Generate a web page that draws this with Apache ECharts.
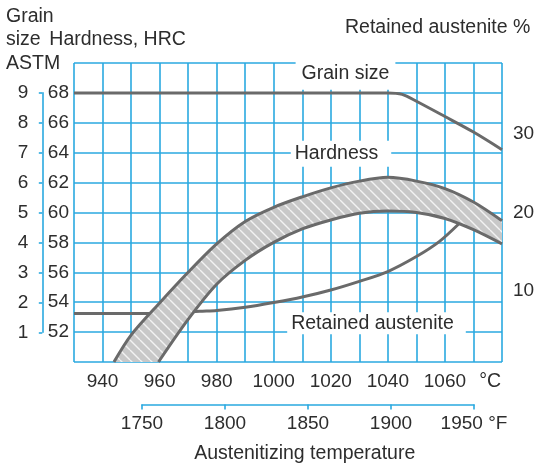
<!DOCTYPE html>
<html>
<head>
<meta charset="utf-8">
<script src="https://cdn.jsdelivr.net/npm/echarts@6/dist/echarts.min.js"></script>
<style>
html, body { margin: 0; padding: 0; background: #fff; }
#chart { width: 538px; height: 467px; }
</style>
</head>
<body>
<div id="chart"></div>
<script>
// tick labels
var tempLabels = [940, 960, 980, 1000, 1020, 1040, 1060];
var hrcLabels = [52, 54, 56, 58, 60, 62, 64, 66, 68];
var austLabels = [10, 20, 30];
var fahrenheitTicks = [1750, 1800, 1850, 1900, 1950];

// grain size (ASTM) against austenitizing temperature, degC
var grainTemp = [930, 1040, 1045, 1050, 1060, 1070, 1080];
var grainSize = [9, 9, 8.95, 8.72, 8.21, 7.69, 7.1];

// hardness band, HRC (upper and lower edge)
var hardUpperTemp = [944, 950, 960, 970, 980, 990, 1000, 1010, 1020, 1030, 1040, 1050, 1060, 1070, 1080];
var hardUpper = [50, 51.8, 53.95, 56.0, 57.9, 59.4, 60.35, 61.05, 61.65, 62.1, 62.35, 62.1, 61.6, 60.7, 59.45];
var hardLowerTemp = [959.6, 970, 980, 990, 1000, 1010, 1020, 1030, 1040, 1050, 1060, 1070, 1080];
var hardLower = [50, 52.85, 55.2, 56.8, 58.0, 58.9, 59.5, 59.95, 60.1, 60.0, 59.6, 58.85, 57.9];

// retained austenite %
var austTemp = [930, 957, 966, 974, 980, 990, 1000, 1010, 1020, 1030, 1040, 1050, 1058, 1065];
var austVal = [7.15, 7.15, 7.25, 7.45, 7.55, 7.95, 8.55, 9.25, 10.15, 11.25, 12.5, 14.4, 16.3, 18.6];

var BLUE = '#2aa9e0';
var GREY = '#6a6a6a';
var TXT = '#2d2d2d';
var FONT = '"Liberation Sans", Arial, Helvetica, sans-serif';

function pairs(xs, ys) {
    var out = [];
    for (var i = 0; i < xs.length; i++) out.push([xs[i], ys[i]]);
    return out;
}

// striped grey fill for the hardness band
var tile = document.createElement('canvas');
tile.width = 10; tile.height = 10;
var g = tile.getContext('2d');
g.fillStyle = '#c8c8c8';
g.fillRect(0, 0, 10, 10);
g.strokeStyle = '#f2f2f2';
g.lineWidth = 1.4;
for (var k = -1; k <= 1; k++) {
    g.beginPath();
    g.moveTo(0, k * 10);
    g.lineTo(10, 10 + k * 10);
    g.stroke();
}
var stripes = { image: tile, repeat: 'repeat' };

function txt(x, y, s, align, extra) {
    var st = { text: s, font: '19.5px ' + FONT, fill: TXT, align: align || 'left', verticalAlign: 'middle' };
    if (extra) for (var p in extra) st[p] = extra[p];
    return { type: 'text', x: x, y: y, z: 1, style: st };
}

function plain(v) { return String(v); }

var chart = echarts.init(document.getElementById('chart'), null, { renderer: 'canvas' });
chart.setOption({
    animation: false,
    textStyle: { fontFamily: FONT },
    grid: [
        { left: 74, top: 63, width: 428, height: 299 },
        { left: 42.3, top: 92.9, width: 1, height: 239.4 },
        { left: 142, top: 403.5, width: 332, height: 1 }
    ],
    xAxis: [
        {
            type: 'value', gridIndex: 0, min: 930, max: 1080, interval: 10,
            axisLine: { show: false }, axisTick: { show: false },
            splitLine: { lineStyle: { color: BLUE, width: 1.6 } },
            axisLabel: { customValues: tempLabels, formatter: plain, margin: 10, fontSize: 19, color: TXT }
        },
        { type: 'value', gridIndex: 1, show: false },
        {
            type: 'value', gridIndex: 2, min: 1750, max: 1950, interval: 50, position: 'bottom',
            axisLine: { lineStyle: { color: BLUE, width: 1.6 } },
            axisTick: { customValues: fahrenheitTicks, length: 5, lineStyle: { color: BLUE, width: 1.6 } },
            splitLine: { show: false },
            axisLabel: {
                customValues: fahrenheitTicks, margin: 10, fontSize: 19, color: TXT,
                formatter: function (v) { return v === 1950 ? '1950 °F' : String(v); }
            }
        }
    ],
    yAxis: [
        {
            type: 'value', gridIndex: 0, min: 50, max: 70, interval: 2, position: 'left',
            axisLine: { show: false }, axisTick: { show: false },
            splitLine: { lineStyle: { color: BLUE, width: 1.6 } },
            axisLabel: { customValues: hrcLabels, formatter: plain, margin: 5, fontSize: 19, color: TXT }
        },
        {
            type: 'value', gridIndex: 0, min: 1, max: 39, position: 'right',
            axisLine: { show: false }, axisTick: { show: false }, splitLine: { show: false },
            axisLabel: { customValues: austLabels, formatter: plain, margin: 11, fontSize: 19, color: TXT }
        },
        { type: 'value', gridIndex: 0, min: 0, max: 10, show: false },
        {
            type: 'value', gridIndex: 1, min: 1, max: 9, interval: 1, position: 'left',
            axisLine: { lineStyle: { color: BLUE, width: 1.6 } },
            axisTick: { length: 3.5, lineStyle: { color: BLUE, width: 1.6 } },
            splitLine: { show: false },
            axisLabel: { margin: 14, fontSize: 19, color: TXT, padding: [10, 0, 0, 0] }
        },
        { type: 'value', gridIndex: 2, show: false }
    ],
    series: [
        {
            name: 'Retained austenite', type: 'line', xAxisIndex: 0, yAxisIndex: 1, z: 2,
            data: pairs(austTemp, austVal), smooth: 0.3, symbol: 'none',
            lineStyle: { color: GREY, width: 3 }
        },
        {
            name: 'Hardness band', type: 'custom', xAxisIndex: 0, yAxisIndex: 0, z: 3,
            data: [[1000, 60]],
            renderItem: function (params, api) {
                var pts = [];
                for (var i = 0; i < hardUpperTemp.length; i++) pts.push(api.coord([hardUpperTemp[i], hardUpper[i]]));
                for (var j = hardLowerTemp.length - 1; j >= 0; j--) pts.push(api.coord([hardLowerTemp[j], hardLower[j]]));
                return { type: 'polygon', shape: { points: pts }, style: { fill: stripes, stroke: null } };
            }
        },
        {
            name: 'Hardness max', type: 'line', xAxisIndex: 0, yAxisIndex: 0, z: 4,
            data: pairs(hardUpperTemp, hardUpper), smooth: 0.3, symbol: 'none',
            lineStyle: { color: GREY, width: 3 }
        },
        {
            name: 'Hardness min', type: 'line', xAxisIndex: 0, yAxisIndex: 0, z: 4,
            data: pairs(hardLowerTemp, hardLower), smooth: 0.3, symbol: 'none',
            lineStyle: { color: GREY, width: 3 }
        },
        {
            name: 'Grain size', type: 'line', xAxisIndex: 0, yAxisIndex: 2, z: 4,
            data: pairs(grainTemp, grainSize), smooth: 0.3, symbol: 'none',
            lineStyle: { color: GREY, width: 3 }
        }
    ],
    graphic: [
        txt(6, 16.5, 'Grain'),
        txt(6, 40, 'size'),
        txt(6, 63.7, 'ASTM'),
        txt(49.3, 40, 'Hardness, HRC'),
        txt(345, 28, 'Retained austenite %'),
        txt(345.5, 73.3, 'Grain size', 'center', { backgroundColor: '#fff', padding: [10, 6, 3, 6] }),
        txt(341, 153.7, 'Hardness', 'center', { backgroundColor: '#fff', padding: [3, 13, 3, 4] }),
        txt(376.5, 323.3, 'Retained austenite', 'center', { backgroundColor: '#fff', padding: [0, 12, 2, 4] }),
        txt(479.3, 381.2, '°C'),
        txt(304.7, 453.3, 'Austenitizing temperature', 'center')
    ]
});
</script>
</body>
</html>
